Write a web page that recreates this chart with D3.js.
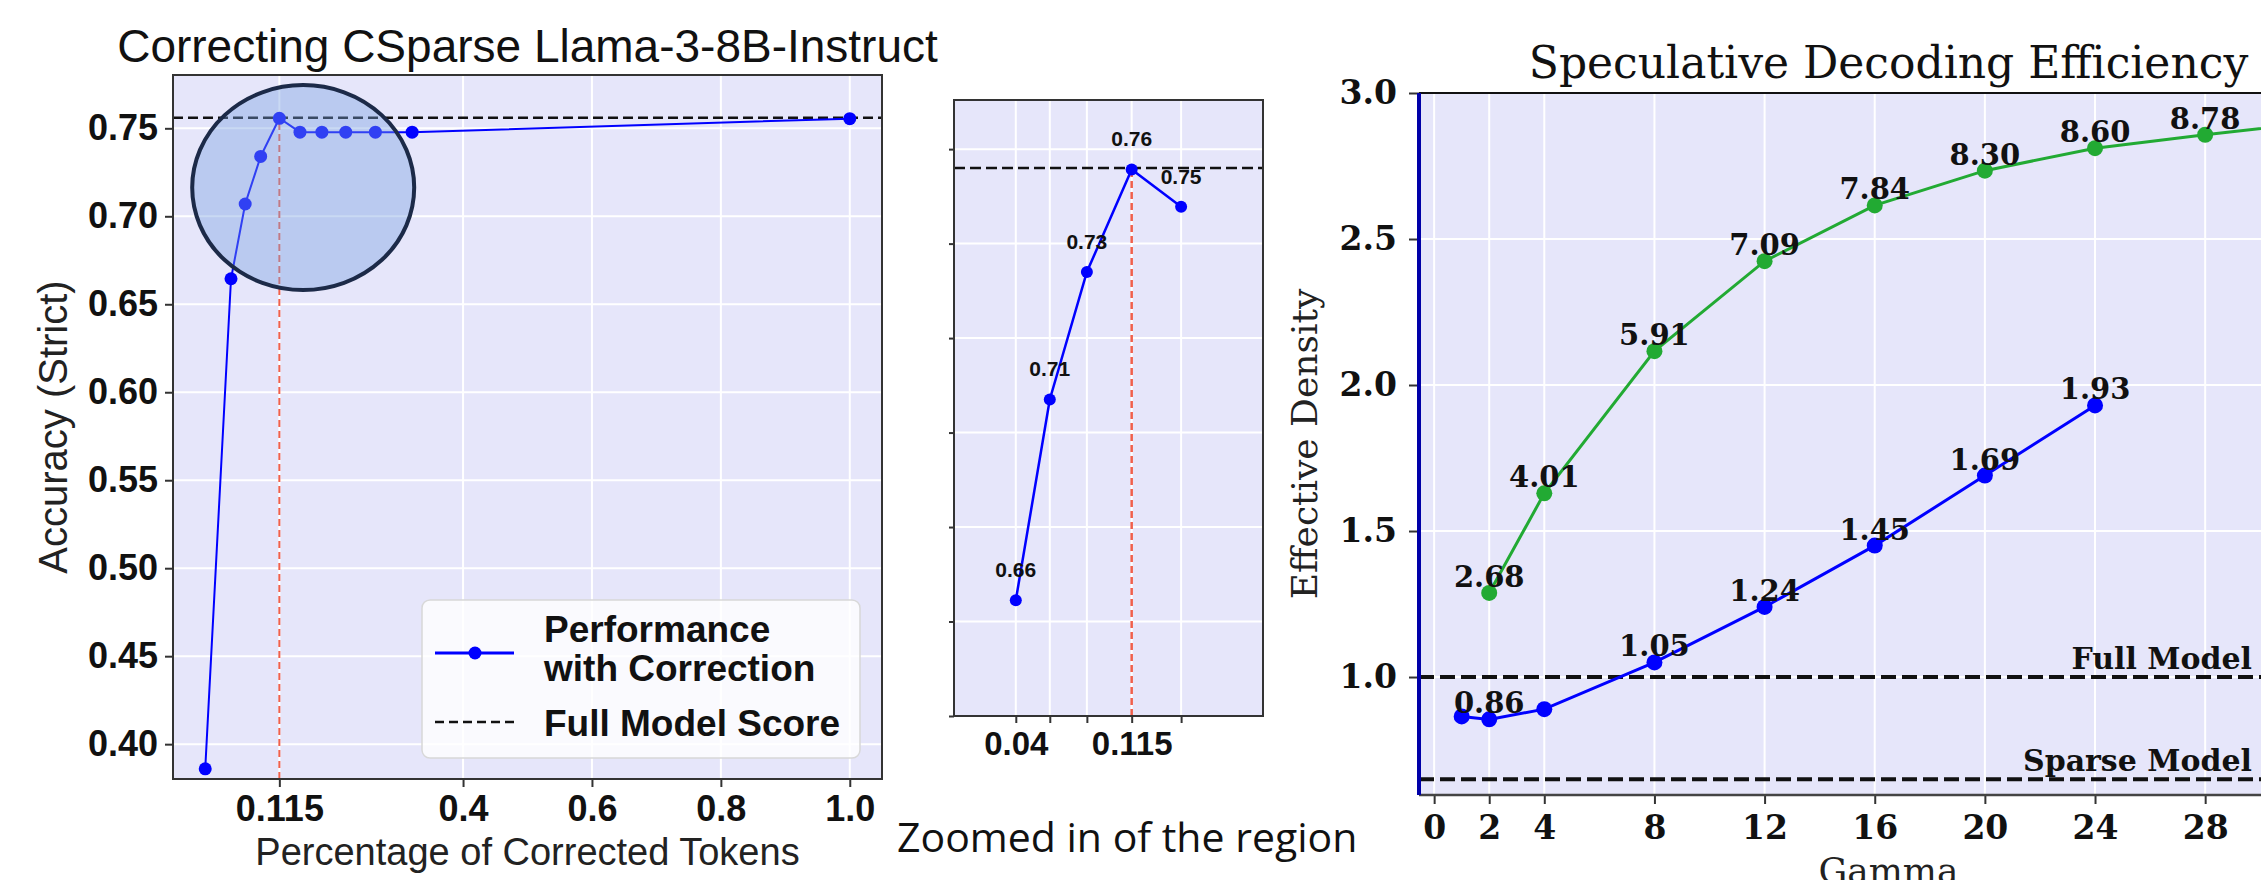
<!DOCTYPE html>
<html>
<head>
<meta charset="utf-8">
<script src="https://cdn.jsdelivr.net/npm/d3@7"></script>
<style>
  body { margin: 0; background: #fff; }
  svg { display: block; }
</style>
</head>
<body>
<div id="chart"></div>
<script>
// ---- data
const corrX = [0.0, 0.04, 0.062, 0.086, 0.115, 0.147, 0.181, 0.218, 0.264, 0.321, 1.0];
const corrAcc = [0.386, 0.6645, 0.707, 0.734, 0.7557, 0.7478, 0.7478, 0.7478, 0.7478, 0.7478, 0.7555];
const fullScore = 0.756;
const knee = 0.115;
const mainXTicks = [0.115, 0.4, 0.6, 0.8, 1.0];
const mainXTickLabels = ["0.115", "0.4", "0.6", "0.8", "1.0"];
const mainYTicks = [0.40, 0.45, 0.50, 0.55, 0.60, 0.65, 0.70, 0.75];

const zoomX = [0.04, 0.062, 0.086, 0.115, 0.147];
const zoomAcc = [0.6645, 0.707, 0.734, 0.7557, 0.7478];
const zoomLabels = ["0.66", "0.71", "0.73", "0.76", "0.75"];
const zoomXTickLabels = ["0.04", "", "", "0.115", ""];
const zoomYTicks = [0.64, 0.66, 0.68, 0.70, 0.72, 0.74, 0.76];

const gammaTicks = [0, 2, 4, 8, 12, 16, 20, 24, 28];
const densityTicks = [1.0, 1.5, 2.0, 2.5, 3.0];
const sparseGamma = [1, 2, 4, 8, 12, 16, 20, 24];
const sparseDensity = [0.865, 0.855, 0.89, 1.05, 1.24, 1.45, 1.69, 1.93];
const sparseLabels = [null, "0.86", null, "1.05", "1.24", "1.45", "1.69", "1.93"];
const corrGamma = [2, 4, 8, 12, 16, 20, 24, 28, 32];
const corrDensity = [1.288, 1.629, 2.116, 2.424, 2.615, 2.734, 2.811, 2.857, 2.90];
const corrLabels = ["2.68", "4.01", "5.91", "7.09", "7.84", "8.30", "8.60", "8.78", null];
const fullModelDensity = 1.0;
const sparseModelDensity = 0.65;

const W = 2261, H = 880;
const sans = "'Liberation Sans', Arial, sans-serif";
const serif = "'DejaVu Serif', serif";
const plotBg = "#e6e6fa";
const spine = "#333";

const svg = d3.select("#chart").append("svg")
  .attr("width", W).attr("height", H)
  .style("overflow", "hidden");

function zip(xs, ys, labels) {
  return xs.map((x, i) => ({ x, y: ys[i], label: labels ? labels[i] : null }));
}

function styleAxis(g, font, size, weight) {
  g.select(".domain").remove();
  g.selectAll(".tick line").attr("stroke", spine).attr("stroke-width", 2);
  g.selectAll(".tick text")
    .attr("fill", "#111")
    .style("font-family", font)
    .style("font-size", size + "px")
    .style("font-weight", weight);
}

// ================= left panel =================
const L = { left: 173, right: 882, top: 75, bottom: 779 };
const xL = d3.scaleLinear().domain([-0.05, 1.05]).range([L.left, L.right]);
const yL = d3.scaleLinear().domain([0.3802, 0.7803]).range([L.bottom, L.top]);
const gL = svg.append("g");

gL.append("rect")
  .attr("x", L.left).attr("y", L.top)
  .attr("width", L.right - L.left).attr("height", L.bottom - L.top)
  .attr("fill", plotBg);

gL.selectAll(".vgrid").data(mainXTicks).join("line")
  .attr("x1", d => xL(d)).attr("x2", d => xL(d))
  .attr("y1", L.top).attr("y2", L.bottom)
  .attr("stroke", "#fff").attr("stroke-width", 2);
gL.selectAll(".hgrid").data(mainYTicks).join("line")
  .attr("y1", d => yL(d)).attr("y2", d => yL(d))
  .attr("x1", L.left).attr("x2", L.right)
  .attr("stroke", "#fff").attr("stroke-width", 2);

gL.append("g")
  .attr("transform", `translate(0,${L.bottom})`)
  .call(d3.axisBottom(xL).tickValues(mainXTicks)
    .tickFormat((d, i) => mainXTickLabels[i]).tickSize(8).tickPadding(8))
  .call(g => styleAxis(g, sans, 36, "bold"));
gL.append("g")
  .attr("transform", `translate(${L.left},0)`)
  .call(d3.axisLeft(yL).tickValues(mainYTicks)
    .tickFormat(d3.format(".2f")).tickSize(8).tickPadding(7))
  .call(g => styleAxis(g, sans, 36, "bold"));

const mainData = zip(corrX, corrAcc);
const kneeAcc = corrAcc[corrX.indexOf(knee)];

gL.append("line")
  .attr("x1", L.left).attr("x2", L.right)
  .attr("y1", yL(fullScore)).attr("y2", yL(fullScore))
  .attr("stroke", "#111").attr("stroke-width", 2.5)
  .attr("stroke-dasharray", "10,5");
gL.append("line")
  .attr("x1", xL(knee)).attr("x2", xL(knee))
  .attr("y1", L.bottom).attr("y2", yL(kneeAcc))
  .attr("stroke", "#f0604c").attr("stroke-width", 2)
  .attr("stroke-dasharray", "7,4");

gL.append("path")
  .datum(mainData)
  .attr("fill", "none").attr("stroke", "#0000ff").attr("stroke-width", 2)
  .attr("d", d3.line().x(d => xL(d.x)).y(d => yL(d.y)));
gL.selectAll(".pt").data(mainData).join("circle")
  .attr("cx", d => xL(d.x)).attr("cy", d => yL(d.y)).attr("r", 6.5)
  .attr("fill", "#0000ff");

gL.append("rect")
  .attr("x", L.left).attr("y", L.top)
  .attr("width", L.right - L.left).attr("height", L.bottom - L.top)
  .attr("fill", "none").attr("stroke", spine).attr("stroke-width", 2);

// highlight ring around the knee region
gL.append("ellipse")
  .attr("cx", xL(0.152)).attr("cy", yL(0.7163))
  .attr("rx", 111).attr("ry", 102.5)
  .attr("fill", "rgb(120,160,225)").attr("fill-opacity", 0.4)
  .attr("stroke", "#1c2a48").attr("stroke-width", 4);

// legend
const leg = gL.append("g");
leg.append("rect")
  .attr("x", 422).attr("y", 600).attr("width", 438).attr("height", 158)
  .attr("rx", 8).attr("fill", "#fff").attr("fill-opacity", 0.8)
  .attr("stroke", "#d8d8d8").attr("stroke-width", 1.5);
leg.append("line").attr("x1", 435).attr("x2", 514).attr("y1", 653).attr("y2", 653)
  .attr("stroke", "#0000ff").attr("stroke-width", 3);
leg.append("circle").attr("cx", 475).attr("cy", 653).attr("r", 6.5).attr("fill", "#0000ff");
leg.append("line").attr("x1", 435).attr("x2", 514).attr("y1", 722).attr("y2", 722)
  .attr("stroke", "#111").attr("stroke-width", 2.5).attr("stroke-dasharray", "9,5");
[["Performance", 642], ["with Correction", 681], ["Full Model Score", 736]].forEach(([t, y]) => {
  leg.append("text").attr("x", 544).attr("y", y).text(t)
    .style("font-family", sans).style("font-size", "37px").style("font-weight", "bold")
    .attr("fill", "#111");
});

svg.append("text")
  .attr("x", (L.left + L.right) / 2).attr("y", 62)
  .attr("text-anchor", "middle")
  .style("font-family", sans).style("font-size", "46px")
  .attr("fill", "#111")
  .text("Correcting CSparse Llama-3-8B-Instruct");
svg.append("text")
  .attr("x", (L.left + L.right) / 2).attr("y", 865)
  .attr("text-anchor", "middle")
  .style("font-family", sans).style("font-size", "38px")
  .attr("fill", "#222")
  .text("Percentage of Corrected Tokens");
svg.append("text")
  .attr("transform", `translate(67,${(L.top + L.bottom) / 2}) rotate(-90)`)
  .attr("text-anchor", "middle")
  .style("font-family", sans).style("font-size", "40px")
  .attr("fill", "#222")
  .text("Accuracy (Strict)");

// ================= zoomed middle panel =================
const M = { left: 954, right: 1263, top: 100, bottom: 716 };
const xM = d3.scaleLinear().domain([0, 0.2]).range([M.left, M.right]);
const yM = d3.scaleLinear().domain([0.64, 0.7704]).range([M.bottom, M.top]);
const gM = svg.append("g");

gM.append("rect")
  .attr("x", M.left).attr("y", M.top)
  .attr("width", M.right - M.left).attr("height", M.bottom - M.top)
  .attr("fill", plotBg);
gM.selectAll(".vgrid").data(zoomX).join("line")
  .attr("x1", d => xM(d)).attr("x2", d => xM(d))
  .attr("y1", M.top).attr("y2", M.bottom)
  .attr("stroke", "#fff").attr("stroke-width", 2);
gM.selectAll(".hgrid").data(zoomYTicks).join("line")
  .attr("y1", d => yM(d)).attr("y2", d => yM(d))
  .attr("x1", M.left).attr("x2", M.right)
  .attr("stroke", "#fff").attr("stroke-width", 2);

gM.append("g")
  .attr("transform", `translate(0,${M.bottom})`)
  .call(d3.axisBottom(xM).tickValues(zoomX)
    .tickFormat((d, i) => zoomXTickLabels[i]).tickSize(7).tickPadding(9))
  .call(g => styleAxis(g, sans, 33, "bold"));
gM.append("g")
  .attr("transform", `translate(${M.left},0)`)
  .call(d3.axisLeft(yM).tickValues(zoomYTicks).tickFormat("").tickSize(5))
  .call(g => styleAxis(g, sans, 10, "normal"));

const zoomData = zip(zoomX, zoomAcc, zoomLabels);
gM.append("line")
  .attr("x1", M.left).attr("x2", M.right)
  .attr("y1", yM(fullScore)).attr("y2", yM(fullScore))
  .attr("stroke", "#111").attr("stroke-width", 2.5)
  .attr("stroke-dasharray", "11,5");
gM.append("line")
  .attr("x1", xM(knee)).attr("x2", xM(knee))
  .attr("y1", M.bottom).attr("y2", yM(kneeAcc))
  .attr("stroke", "#f0604c").attr("stroke-width", 2.5)
  .attr("stroke-dasharray", "7,4");
gM.append("path")
  .datum(zoomData)
  .attr("fill", "none").attr("stroke", "#0000ff").attr("stroke-width", 2.5)
  .attr("d", d3.line().x(d => xM(d.x)).y(d => yM(d.y)));
gM.selectAll(".pt").data(zoomData).join("circle")
  .attr("cx", d => xM(d.x)).attr("cy", d => yM(d.y)).attr("r", 6)
  .attr("fill", "#0000ff");
gM.selectAll(".lbl").data(zoomData).join("text")
  .attr("x", d => xM(d.x)).attr("y", d => yM(d.y) - 23)
  .attr("text-anchor", "middle")
  .style("font-family", sans).style("font-size", "21px").style("font-weight", "bold")
  .attr("fill", "#111")
  .text(d => d.label);
gM.append("rect")
  .attr("x", M.left).attr("y", M.top)
  .attr("width", M.right - M.left).attr("height", M.bottom - M.top)
  .attr("fill", "none").attr("stroke", spine).attr("stroke-width", 2);

svg.append("text")
  .attr("x", 897).attr("y", 852)
  .style("font-family", "'Open Sans', sans-serif").style("font-size", "41px")
  .attr("fill", "#111")
  .text("Zoomed in of the region");

// ================= right panel =================
const R = { left: 1419, right: 2358, top: 93, bottom: 795 };
const xR = d3.scaleLinear().domain([-0.55, 33.55]).range([R.left, R.right]);
const yR = d3.scaleLinear().domain([0.596, 3.0]).range([R.bottom, R.top]);
const gR = svg.append("g");

gR.append("rect")
  .attr("x", R.left).attr("y", R.top)
  .attr("width", R.right - R.left).attr("height", R.bottom - R.top)
  .attr("fill", plotBg);
gR.selectAll(".vgrid").data(gammaTicks).join("line")
  .attr("x1", d => xR(d)).attr("x2", d => xR(d))
  .attr("y1", R.top).attr("y2", R.bottom)
  .attr("stroke", "#fff").attr("stroke-width", 2);
gR.selectAll(".hgrid").data(densityTicks).join("line")
  .attr("y1", d => yR(d)).attr("y2", d => yR(d))
  .attr("x1", R.left).attr("x2", R.right)
  .attr("stroke", "#fff").attr("stroke-width", 2);

gR.append("g")
  .attr("transform", `translate(0,${R.bottom})`)
  .call(d3.axisBottom(xR).tickValues(gammaTicks).tickFormat(d3.format("d"))
    .tickSize(9).tickPadding(12))
  .call(g => styleAxis(g, serif, 33, "bold"));
gR.append("g")
  .attr("transform", `translate(${R.left},0)`)
  .call(d3.axisLeft(yR).tickValues(densityTicks).tickFormat(d3.format(".1f"))
    .tickSize(10).tickPadding(12))
  .call(g => styleAxis(g, serif, 33, "bold"));

[[fullModelDensity, "Full Model"], [sparseModelDensity, "Sparse Model"]].forEach(([v, t]) => {
  gR.append("line")
    .attr("x1", R.left).attr("x2", R.right)
    .attr("y1", yR(v)).attr("y2", yR(v))
    .attr("stroke", "#111").attr("stroke-width", 4)
    .attr("stroke-dasharray", "15,6");
  gR.append("text")
    .attr("x", xR(29.7)).attr("y", yR(v) - 8)
    .attr("text-anchor", "end")
    .style("font-family", serif).style("font-size", "30px").style("font-weight", "bold")
    .attr("fill", "#111")
    .text(t);
});

const lineR = d3.line().x(d => xR(d.x)).y(d => yR(d.y));
[[zip(corrGamma, corrDensity, corrLabels), "#22aa33"],
 [zip(sparseGamma, sparseDensity, sparseLabels), "#0000ff"]].forEach(([data, color]) => {
  gR.append("path").datum(data)
    .attr("fill", "none").attr("stroke", color).attr("stroke-width", 3)
    .attr("d", lineR);
  gR.selectAll(null).data(data).join("circle")
    .attr("cx", d => xR(d.x)).attr("cy", d => yR(d.y)).attr("r", 8)
    .attr("fill", color);
  gR.selectAll(null).data(data.filter(d => d.label)).join("text")
    .attr("x", d => xR(d.x)).attr("y", d => yR(d.y) - 6)
    .attr("text-anchor", "middle")
    .style("font-family", serif).style("font-size", "29px").style("font-weight", "bold")
    .attr("fill", "#111")
    .text(d => d.label);
});

// spines: bold blue left, black top, grey bottom
gR.append("line").attr("x1", R.left).attr("x2", R.right).attr("y1", R.top).attr("y2", R.top)
  .attr("stroke", "#111").attr("stroke-width", 2);
gR.append("line").attr("x1", R.left).attr("x2", R.right).attr("y1", R.bottom).attr("y2", R.bottom)
  .attr("stroke", "#444").attr("stroke-width", 2.5);
gR.append("line").attr("x1", R.left).attr("x2", R.left).attr("y1", R.top).attr("y2", R.bottom)
  .attr("stroke", "#0000a8").attr("stroke-width", 4);

svg.append("text")
  .attr("x", (R.left + R.right) / 2).attr("y", 78)
  .attr("text-anchor", "middle")
  .style("font-family", serif).style("font-size", "44px")
  .attr("fill", "#111")
  .text("Speculative Decoding Efficiency");
svg.append("text")
  .attr("x", (R.left + R.right) / 2).attr("y", 883)
  .attr("text-anchor", "middle")
  .style("font-family", serif).style("font-size", "36px")
  .attr("fill", "#222")
  .text("Gamma");
svg.append("text")
  .attr("transform", `translate(1317,${(R.top + R.bottom) / 2}) rotate(-90)`)
  .attr("text-anchor", "middle")
  .style("font-family", serif).style("font-size", "36px")
  .attr("fill", "#222")
  .text("Effective Density");
</script>
</body>
</html>
